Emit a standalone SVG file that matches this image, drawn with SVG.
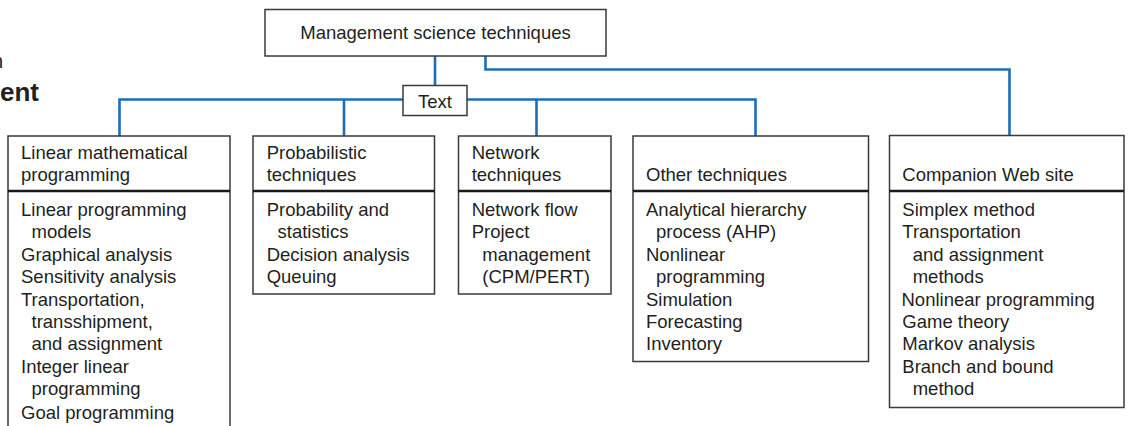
<svg xmlns="http://www.w3.org/2000/svg" width="1129" height="426" viewBox="0 0 1129 426">
<style>
  .box { fill: #fff; stroke: #3a3a3a; stroke-width: 1.5; }
  .sep { stroke: #1a1a1a; stroke-width: 2.5; }
  .t { font-family: "Liberation Sans", Arial, sans-serif; font-size: 18.5px; fill: #231f20; }
  .c { text-anchor: middle; }
  .conn { fill: none; stroke: #1c6db7; stroke-width: 2.6; }
</style>
<rect width="1129" height="426" fill="#fff"/>
<text x="3" y="68" text-anchor="end" font-family="Liberation Sans, Arial, sans-serif" font-size="20" fill="#231f20">n</text>
<text x="39" y="101" text-anchor="end" font-family="Liberation Sans, Arial, sans-serif" font-size="26" font-weight="bold" fill="#231f20">ent</text>

<g id="connectors">
  <path class="conn" d="M435,56 V86"/>
  <path class="conn" d="M119.5,137 V99.5 H755.5 V137"/>
  <path class="conn" d="M344,99.5 V137"/>
  <path class="conn" d="M536.5,99.5 V137"/>
  <path class="conn" d="M485.5,56 V69.5 H1009.5 V136"/>
</g>

<g id="root">
  <rect class="box" x="265" y="9.5" width="341" height="46.5"/>
  <text class="t c" x="435.5" y="39">Management science techniques</text>
</g>

<g id="label-text">
  <rect class="box" x="403" y="85.5" width="64" height="30"/>
  <text class="t c" x="435" y="108">Text</text>
</g>

<g id="linear">
  <rect class="box" x="8" y="136" width="222" height="300"/>
  <line class="sep" x1="8" y1="191" x2="230" y2="191"/>
  <text class="t" x="21" y="159.3">Linear mathematical</text>
  <text class="t" x="21" y="180.7">programming</text>
  <text class="t" x="21" y="216">Linear programming</text>
  <text class="t" x="31.5" y="238.4">models</text>
  <text class="t" x="21" y="260.8">Graphical analysis</text>
  <text class="t" x="21" y="283.2">Sensitivity analysis</text>
  <text class="t" x="21" y="305.6">Transportation,</text>
  <text class="t" x="31.5" y="328">transshipment,</text>
  <text class="t" x="31.5" y="350.4">and assignment</text>
  <text class="t" x="21" y="372.8">Integer linear</text>
  <text class="t" x="31.5" y="395.2">programming</text>
  <text class="t" x="21" y="418.5">Goal programming</text>
</g>

<g id="probabilistic">
  <rect class="box" x="253" y="136" width="181.5" height="158"/>
  <line class="sep" x1="253" y1="191" x2="434.5" y2="191"/>
  <text class="t" x="266.7" y="159.3">Probabilistic</text>
  <text class="t" x="266.7" y="180.7">techniques</text>
  <text class="t" x="266.7" y="216">Probability and</text>
  <text class="t" x="277.5" y="238.4">statistics</text>
  <text class="t" x="266.7" y="260.8">Decision analysis</text>
  <text class="t" x="266.7" y="283.2">Queuing</text>
</g>

<g id="network">
  <rect class="box" x="458.5" y="136" width="152.5" height="158"/>
  <line class="sep" x1="458.5" y1="191" x2="611" y2="191"/>
  <text class="t" x="471.7" y="159.3">Network</text>
  <text class="t" x="471.7" y="180.7">techniques</text>
  <text class="t" x="471.7" y="216">Network flow</text>
  <text class="t" x="471.7" y="238.4">Project</text>
  <text class="t" x="482.3" y="260.8">management</text>
  <text class="t" x="482.3" y="283.2">(CPM/PERT)</text>
</g>

<g id="other">
  <rect class="box" x="633" y="136" width="235.5" height="225.5"/>
  <line class="sep" x1="633" y1="191" x2="868.5" y2="191"/>
  <text class="t" x="646" y="180.7">Other techniques</text>
  <text class="t" x="646" y="216">Analytical hierarchy</text>
  <text class="t" x="656" y="238.4">process (AHP)</text>
  <text class="t" x="646" y="260.8">Nonlinear</text>
  <text class="t" x="656" y="283.2">programming</text>
  <text class="t" x="646" y="305.6">Simulation</text>
  <text class="t" x="646" y="328">Forecasting</text>
  <text class="t" x="646" y="350.4">Inventory</text>
</g>

<g id="companion">
  <rect class="box" x="889.5" y="135.5" width="234.5" height="272"/>
  <line class="sep" x1="889.5" y1="191" x2="1124" y2="191"/>
  <text class="t" x="902.3" y="180.7">Companion Web site</text>
  <text class="t" x="902.3" y="216">Simplex method</text>
  <text class="t" x="902.3" y="238.4">Transportation</text>
  <text class="t" x="912.7" y="260.8">and assignment</text>
  <text class="t" x="912.7" y="283.2">methods</text>
  <text class="t" x="901.5" y="305.6">Nonlinear programming</text>
  <text class="t" x="902.3" y="328">Game theory</text>
  <text class="t" x="902.3" y="350.4">Markov analysis</text>
  <text class="t" x="902.3" y="372.8">Branch and bound</text>
  <text class="t" x="912.7" y="395.2">method</text>
</g>
</svg>
